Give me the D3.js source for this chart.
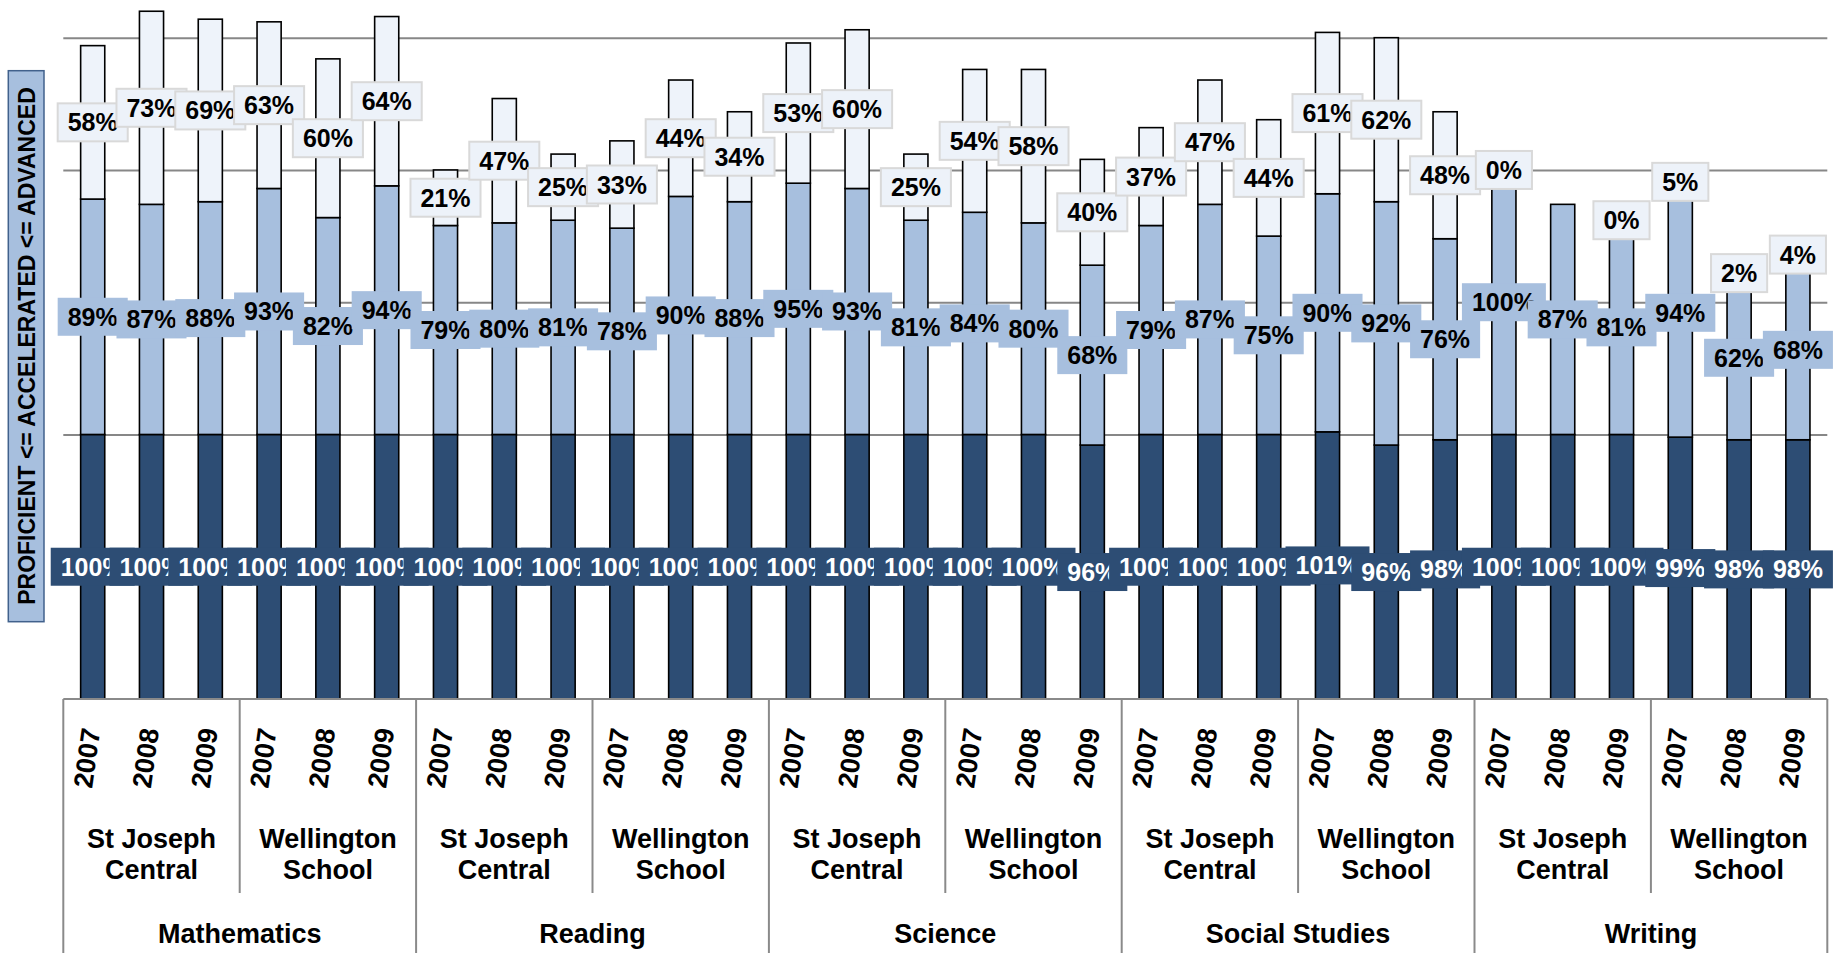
<!DOCTYPE html>
<html>
<head>
<meta charset="utf-8">
<script src="https://cdn.jsdelivr.net/npm/d3@7"></script>
<style>
  html, body { margin: 0; padding: 0; background: #ffffff; }
  svg { display: block; }
  text { font-family: "Liberation Sans", Arial, sans-serif; font-weight: bold; }
</style>
</head>
<body>
<svg id="chart" width="1837" height="953"></svg>
<script>
// ---------- data ----------
const subjects = ["Mathematics", "Reading", "Science", "Social Studies", "Writing"];
const schools = [["St Joseph", "Central"], ["Wellington", "School"]];
const years = ["2007", "2008", "2009"];
const axisTitle = "PROFICIENT <= ACCELERATED <= ADVANCED";
const gridValues = [50, 100, 150, 200, 250];

// 30 bars: subject > school > year
const proficient = [
  100, 100, 100, 100, 100, 100,
  100, 100, 100, 100, 100, 100,
  100, 100, 100, 100, 100, 96,
  100, 100, 100, 101, 96, 98,
  100, 100, 100, 99, 98, 98
];
const accelerated = [
  89, 87, 88, 93, 82, 94,
  79, 80, 81, 78, 90, 88,
  95, 93, 81, 84, 80, 68,
  79, 87, 75, 90, 92, 76,
  100, 87, 81, 94, 62, 68
];
const advanced = [
  58, 73, 69, 63, 60, 64,
  21, 47, 25, 33, 44, 34,
  53, 60, 25, 54, 58, 40,
  37, 47, 44, 61, 62, 48,
  0, null, 0, 5, 2, 4
];

// ---------- setup ----------
const svg = d3.select("#chart");
const plotLeft = 63.3, plotRight = 1827.3;
const baseY = 699, topY = 37.7;

const rows = proficient.map((p, i) => ({
  i,
  subject: subjects[Math.floor(i / 6)],
  school: Math.floor(i / 3) % 2,
  year: years[i % 3],
  p, a: accelerated[i], d: advanced[i]
}));

const x = d3.scaleBand()
  .domain(rows.map(r => r.i))
  .range([plotLeft, plotRight])
  .paddingInner(0.59)
  .paddingOuter(0.295);

const y = d3.scaleLinear().domain([0, 250]).range([baseY, topY]);

const COL_DARK = "#2d4d74", COL_MID = "#a7bfde", COL_TOP = "#eef3fa";

// ---------- gridlines ----------
const grid = svg.append("g")
  .attr("transform", `translate(${plotLeft},0)`)
  .call(d3.axisLeft(y).tickValues(gridValues).tickSize(-(plotRight - plotLeft)).tickFormat(""));
grid.select(".domain").remove();
grid.selectAll("line").attr("stroke", "#878787").attr("stroke-width", 2);

// ---------- stacked segments ----------
const segs = [];
rows.forEach(r => {
  segs.push({ r, key: "p", y0: 0, y1: r.p, fill: COL_DARK, val: r.p });
  segs.push({ r, key: "a", y0: r.p, y1: r.p + r.a, fill: COL_MID, val: r.a });
  if (r.d !== null) segs.push({ r, key: "d", y0: r.p + r.a, y1: r.p + r.a + r.d, fill: COL_TOP, val: r.d });
});

svg.append("g").selectAll("rect")
  .data(segs)
  .join("rect")
  .attr("x", s => x(s.r.i))
  .attr("width", x.bandwidth())
  .attr("y", s => y(s.y1))
  .attr("height", s => y(s.y0) - y(s.y1))
  .attr("fill", s => s.fill)
  .attr("stroke", "#000")
  .attr("stroke-width", 1.6);

// ---------- category axis ----------
const axisG = svg.append("g");
axisG.append("line")
  .attr("x1", plotLeft).attr("x2", plotRight)
  .attr("y1", baseY).attr("y2", baseY)
  .attr("stroke", "#8a8a8a").attr("stroke-width", 2);

const step = x.step();
const boundaries = d3.range(0, 31, 3);
axisG.selectAll("line.div")
  .data(boundaries)
  .join("line")
  .attr("class", "div")
  .attr("x1", b => b === 30 ? plotRight : x(b) - (step - x.bandwidth()) / 2)
  .attr("x2", b => b === 30 ? plotRight : x(b) - (step - x.bandwidth()) / 2)
  .attr("y1", baseY)
  .attr("y2", b => b % 6 === 0 ? 953 : 893)
  .attr("stroke", "#8a8a8a").attr("stroke-width", 2);

// years
axisG.selectAll("text.year")
  .data(rows)
  .join("text")
  .attr("class", "year")
  .attr("transform", r => `translate(${x(r.i) + x.bandwidth() / 2 - 6},758) rotate(-82)`)
  .attr("text-anchor", "middle")
  .attr("dy", "0.35em")
  .attr("font-size", 27)
  .attr("fill", "#000")
  .text(r => r.year);

// schools
const schoolGroups = d3.range(10).map(g => ({ g, lines: schools[g % 2] }));
const sg = axisG.selectAll("text.school")
  .data(schoolGroups)
  .join("text")
  .attr("class", "school")
  .attr("text-anchor", "middle")
  .attr("font-size", 27)
  .attr("fill", "#000");
sg.each(function(d) {
  const cx = (x(d.g * 3) + x(d.g * 3 + 2) + x.bandwidth()) / 2;
  d3.select(this).selectAll("tspan")
    .data(d.lines)
    .join("tspan")
    .attr("x", cx)
    .attr("y", (t, k) => 848 + k * 31)
    .text(t => t);
});

// subjects
axisG.selectAll("text.subject")
  .data(subjects)
  .join("text")
  .attr("class", "subject")
  .attr("text-anchor", "middle")
  .attr("font-size", 27)
  .attr("fill", "#000")
  .attr("x", (s, k) => (x(k * 6) + x(k * 6 + 5) + x.bandwidth()) / 2)
  .attr("y", 943)
  .text(s => s);

// ---------- data labels ----------
const labelOrder = ["p", "a", "d"];
const labelStyle = {
  p: { fill: COL_DARK, stroke: "none", text: "#ffffff" },
  a: { fill: COL_MID, stroke: "none", text: "#000000" },
  d: { fill: "#edf2f9", stroke: "#d9d9d9", text: "#000000" }
};
const labelsG = svg.append("g");
labelOrder.forEach(key => {
  segs.filter(s => s.key === key).forEach(s => {
    const cx = x(s.r.i) + x.bandwidth() / 2;
    const cy = (y(s.y0) + y(s.y1)) / 2;
    const st = labelStyle[key];
    const g = labelsG.append("g");
    const rect = g.append("rect");
    const t = g.append("text")
      .attr("x", cx).attr("y", cy)
      .attr("dy", "0.36em")
      .attr("text-anchor", "middle")
      .attr("font-size", 25)
      .attr("fill", st.text)
      .text(s.val + "%");
    const w = t.node().getComputedTextLength() + 20;
    rect.attr("x", cx - w / 2).attr("y", cy - 19)
      .attr("width", w).attr("height", 38)
      .attr("fill", st.fill)
      .attr("stroke", st.stroke)
      .attr("stroke-width", st.stroke === "none" ? 0 : 2);
  });
});

// ---------- axis title ----------
svg.append("rect")
  .attr("x", 8.3).attr("y", 70.7)
  .attr("width", 35.7).attr("height", 551)
  .attr("fill", COL_MID)
  .attr("stroke", "#41618c").attr("stroke-width", 1.5);
svg.append("text")
  .attr("transform", "translate(26.5,346) rotate(-90)")
  .attr("text-anchor", "middle")
  .attr("dy", "0.36em")
  .attr("font-size", 23)
  .attr("fill", "#000")
  .text(axisTitle);
</script>
</body>
</html>
